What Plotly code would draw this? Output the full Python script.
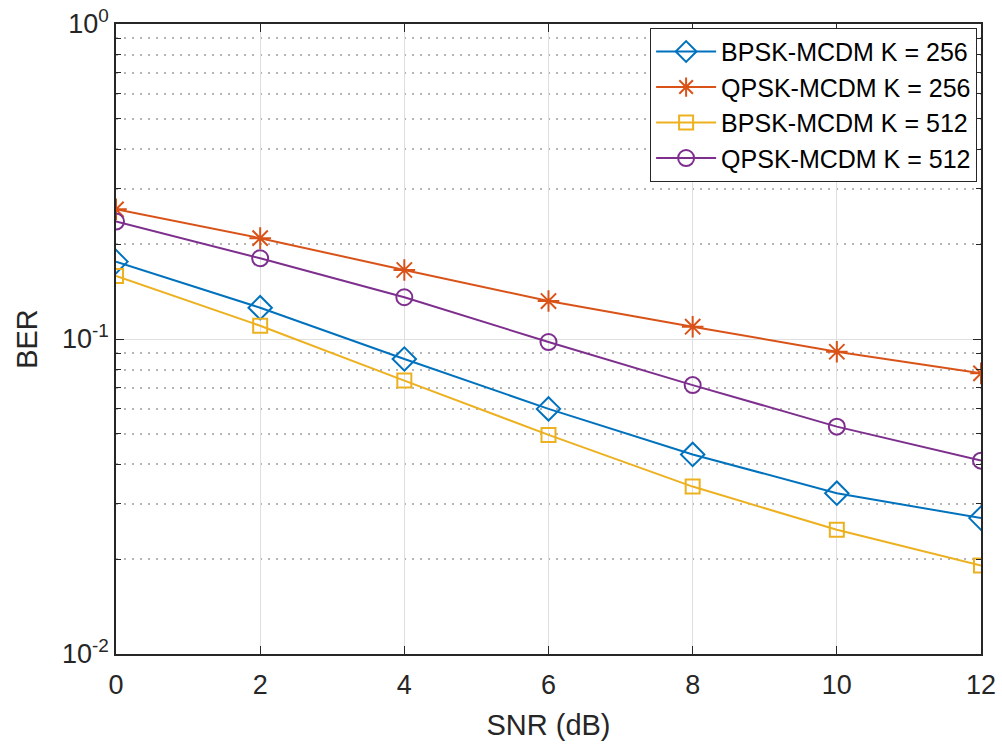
import plotly.graph_objects as go

snr = [0, 2, 4, 6, 8, 10, 12]
bpsk_256 = [0.176, 0.1257, 0.0864, 0.060, 0.043, 0.0324, 0.027]
qpsk_256 = [0.258, 0.209, 0.1656, 0.132, 0.1094, 0.0911, 0.0778]
bpsk_512 = [0.1585, 0.1102, 0.0738, 0.0496, 0.034, 0.0248, 0.0191]
qpsk_512 = [0.236, 0.1804, 0.1357, 0.0978, 0.0714, 0.0527, 0.0411]

names = ["BPSK-MCDM K = 256", "QPSK-MCDM K = 256", "BPSK-MCDM K = 512", "QPSK-MCDM K = 512"]
colors = ["#0072BD", "#D95319", "#EDB120", "#7E2F8E"]
symbols = ["diamond-open", "asterisk-open", "square-open", "circle-open"]
sizes = [18, 18, 14, 16]
series = [bpsk_256, qpsk_256, bpsk_512, qpsk_512]

fig = go.Figure()
for name, y, c, s, sz in zip(names, series, colors, symbols, sizes):
    fig.add_trace(go.Scatter(
        x=snr, y=y, name=name, mode="lines+markers",
        line=dict(color=c, width=2),
        marker=dict(symbol=s, size=sz, color=c, line=dict(color=c, width=2)),
    ))

font = "Liberation Sans, Arial, Helvetica, sans-serif"
fig.update_layout(
    width=1002, height=748,
    margin=dict(l=116, r=21, t=24, b=94),
    paper_bgcolor="white", plot_bgcolor="white",
    font=dict(family=font, size=27, color="#262626"),
    showlegend=True,
    legend=dict(
        x=0.9955, y=0.994, xanchor="right", yanchor="top",
        bgcolor="white", bordercolor="#262626", borderwidth=1,
        font=dict(size=25, color="black"),
        tracegroupgap=0, itemwidth=60,
    ),
    xaxis=dict(
        range=[0, 12], tickvals=[0, 2, 4, 6, 8, 10, 12],
        showgrid=True, gridcolor="#DFDFDF", gridwidth=1,
        showline=True, linecolor="#262626", linewidth=1.5, mirror="ticks",
        ticks="inside", ticklen=8, tickcolor="#262626",
        tickfont=dict(size=27), ticklabelstandoff=6,
        title=dict(text="SNR (dB)", font=dict(size=29), standoff=16),
        zeroline=False, automargin=False,
    ),
    yaxis=dict(
        type="log", range=[-2, 0],
        tickvals=[0.01, 0.1, 1],
        ticktext=["10<sup>-2</sup>", "10<sup>-1</sup>", "10<sup>0</sup>"],
        tickfont=dict(size=27),
        showgrid=True, gridcolor="#DFDFDF", gridwidth=1,
        showline=True, linecolor="#262626", linewidth=1.5, mirror="ticks",
        ticks="inside", ticklen=8, tickcolor="#262626",
        minor=dict(
            tickvals=[k * 10 ** e for e in (-2, -1) for k in range(2, 10)],
            ticks="inside", ticklen=5, tickcolor="#262626",
            showgrid=True, gridcolor="#B5B5B5", griddash="2px,6px", gridwidth=1.5,
        ),
        title=dict(text="BER", font=dict(size=29), standoff=16),
        zeroline=False, automargin=False,
    ),
)

fig.write_html("out.html", config={"displayModeBar": False},
               post_script="document.body.style.margin='0';")
